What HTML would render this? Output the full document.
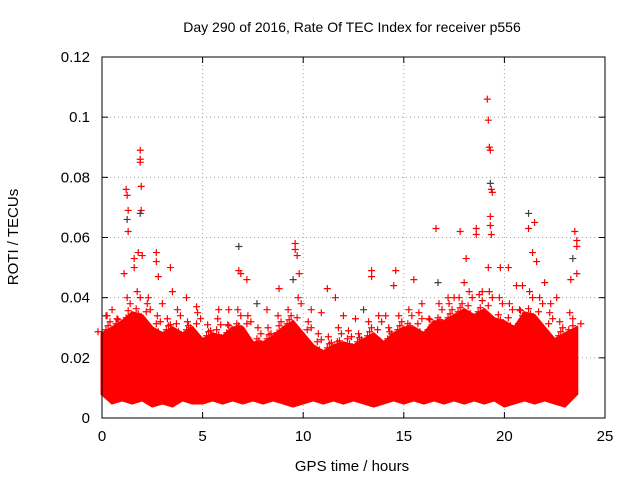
<!DOCTYPE html>
<html><head><meta charset="utf-8"><style>
html,body{margin:0;padding:0;background:#fff;}
svg{display:block;font-family:"Liberation Sans",sans-serif;}
</style></head><body>
<svg id="chart" width="640" height="480" viewBox="0 0 640 480">
<text x="352" y="32" font-size="14" text-anchor="middle">Day 290 of 2016, Rate Of TEC Index for receiver p556</text>
<text x="352" y="471" font-size="15" text-anchor="middle">GPS time / hours</text>
<text transform="translate(18,237) rotate(-90)" font-size="15" text-anchor="middle">ROTI / TECUs</text>
<g id="grid"></g>
<g id="ticks"></g>
<g id="marks"></g>
<rect x="102" y="57" width="503" height="361" fill="none" stroke="#000" stroke-width="1"/>
</svg>
<script>
const xTicks=[0,5,10,15,20,25];
const xTickLabels=["0","5","10","15","20","25"];
const yTicks=[0,0.02,0.04,0.06,0.08,0.1,0.12];
const yTickLabels=["0","0.02","0.04","0.06","0.08","0.1","0.12"];
const bandTimes=[0,0.5,1,1.5,2,2.5,3,3.5,4,4.5,5,5.5,6,6.5,7,7.5,8,8.5,9,9.5,10,10.5,11,11.5,12,12.5,13,13.5,14,14.5,15,15.5,16,16.5,17,17.5,18,18.5,19,19.5,20,20.5,21,21.5,22,22.5,23,23.6];
const bandHi=[0.028,0.03,0.032,0.035,0.034,0.03,0.028,0.03,0.028,0.03,0.026,0.028,0.027,0.03,0.03,0.025,0.025,0.027,0.03,0.032,0.028,0.024,0.022,0.024,0.025,0.024,0.026,0.028,0.025,0.028,0.03,0.03,0.028,0.032,0.032,0.034,0.036,0.034,0.036,0.033,0.032,0.03,0.035,0.034,0.03,0.026,0.028,0.03];
const bandLo=[0.008,0.005,0.006,0.005,0.006,0.004,0.005,0.004,0.006,0.005,0.005,0.006,0.005,0.006,0.005,0.006,0.005,0.006,0.005,0.004,0.005,0.006,0.005,0.006,0.005,0.006,0.005,0.004,0.005,0.006,0.005,0.006,0.005,0.006,0.005,0.006,0.005,0.006,0.005,0.006,0.004,0.005,0.006,0.005,0.006,0.005,0.004,0.008];
const fuzzTimes=[0.25,0.75,1.25,1.75,2.25,2.75,3.25,3.75,4.25,4.75,5.25,5.75,6.25,6.75,7.25,7.75,8.25,8.75,9.25,9.75,10.25,10.75,11.25,11.75,12.25,12.75,13.25,13.75,14.25,14.75,15.25,15.75,16.25,16.75,17.25,17.75,18.25,18.75,19.25,19.75,20.25,20.75,21.25,21.75,22.25,22.75,23.25];
const fuzzValues=[0.034,0.033,0.04,0.042,0.038,0.034,0.033,0.036,0.032,0.035,0.031,0.033,0.031,0.036,0.034,0.03,0.03,0.034,0.036,0.04,0.032,0.028,0.027,0.03,0.029,0.028,0.032,0.034,0.03,0.034,0.036,0.035,0.033,0.038,0.038,0.04,0.042,0.041,0.042,0.04,0.038,0.036,0.042,0.04,0.035,0.032,0.035];
const outTimes=[1.2,1.25,1.3,1.3,1.25,1.6,1.6,1.8,1.9,1.9,1.9,1.95,1.95,1.9,2.0,1.1,2.7,2.7,2.8,3.4,3.5,4.2,6.8,6.8,6.9,7.2,8.8,9.6,9.6,9.7,9.8,9.5,11.2,11.6,13.4,13.4,14.6,14.5,15.5,16.6,16.7,17.8,18.1,18.6,18.6,19.15,19.2,19.25,19.3,19.3,19.35,19.4,19.3,19.3,19.35,19.2,19.8,20.2,21.2,21.2,21.5,21.4,21.6,22.0,23.5,23.6,23.6,23.4,23.6,23.3,0.2,3.0,5.8,8.2,10.4,12.0,13.0,17.2,18.0,20.6,22.6,0.5,2.3,4.7,6.3,7.7,10.9,12.6,14.1,15.9,17.5,18.9,20.9,22.3];
const outValues=[0.076,0.074,0.069,0.062,0.066,0.053,0.05,0.055,0.089,0.086,0.085,0.077,0.069,0.068,0.054,0.048,0.055,0.052,0.047,0.05,0.042,0.04,0.057,0.049,0.048,0.046,0.043,0.058,0.056,0.054,0.048,0.046,0.043,0.04,0.049,0.047,0.049,0.044,0.046,0.063,0.045,0.062,0.053,0.063,0.061,0.106,0.099,0.09,0.089,0.078,0.076,0.075,0.067,0.064,0.061,0.05,0.05,0.05,0.068,0.063,0.065,0.055,0.052,0.045,0.062,0.059,0.057,0.053,0.048,0.046,0.034,0.038,0.036,0.036,0.036,0.034,0.036,0.04,0.045,0.044,0.04,0.036,0.04,0.037,0.036,0.038,0.035,0.033,0.034,0.038,0.04,0.042,0.044,0.038];
const NS='http://www.w3.org/2000/svg';
function xs(t){return 102+t*(503/25);}
function ys(v){return 418-v*(361/0.12);}
const grid=document.getElementById('grid'),ticks=document.getElementById('ticks'),marks=document.getElementById('marks');
function mk(tag,attrs,parent){const e=document.createElementNS(NS,tag);for(const k in attrs)e.setAttribute(k,attrs[k]);parent.appendChild(e);return e;}
xTicks.forEach((t,i)=>{
  const x=xs(t);
  if(i>0&&i<xTicks.length-1){const g=mk('line',{x1:x,x2:x,y1:57,y2:418,stroke:'#a0a0a0','stroke-dasharray':'1,3'},grid);
  
  }
  const l=mk('line',{x1:x,x2:x,y1:418,y2:412,stroke:'#000'},ticks);
  
  
  const l2=mk('line',{x1:x,x2:x,y1:57,y2:63,stroke:'#000'},ticks);
  
  
  const tx=mk('text',{x:x,y:441,'font-size':15,'text-anchor':'middle'},ticks);tx.textContent=xTickLabels[i];
  
  
});
yTicks.forEach((v,i)=>{
  const y=ys(v);
  if(i>0&&i<yTicks.length-1){const g=mk('line',{x1:102,x2:605,y1:y,y2:y,stroke:'#a0a0a0','stroke-dasharray':'1,3'},grid);
  
  }
  const l=mk('line',{x1:102,x2:108,y1:y,y2:y,stroke:'#000'},ticks);
  
  
  const l2=mk('line',{x1:605,x2:599,y1:y,y2:y,stroke:'#000'},ticks);
  
  
  const tx=mk('text',{x:90,y:y+5,'font-size':15,'text-anchor':'end'},ticks);tx.textContent=yTickLabels[i];
  
  
});
let d='';
bandTimes.forEach((t,i)=>{d+=(i?'L':'M')+xs(t).toFixed(1)+','+ys(bandHi[i]).toFixed(1);});
for(let i=bandTimes.length-1;i>=0;i--)d+='L'+xs(bandTimes[i]).toFixed(1)+','+ys(bandLo[i]).toFixed(1);
d+='Z';
const band=mk('path',{d:d,fill:'#ff0000',stroke:'#ff0000','stroke-width':3},marks);


function plus(x,y,c,name){
  const p=mk('path',{d:`M${x-3.5},${y}h7M${x},${y-3.5}v7`,stroke:c,'stroke-width':1.2,fill:'none'},marks);
  
  
}
bandTimes.forEach((t,i)=>{plus(xs(t)+4,ys(bandHi[i])-4,'#ff0000','band-top-point');plus(xs(t)-4,ys(bandHi[i])-2,'#ff0000','band-top-point');});
fuzzTimes.forEach((t,i)=>{plus(xs(t),ys(fuzzValues[i]),'#ff0000','fuzz-point');plus(xs(t)+3,ys(fuzzValues[i])+6,'#ff0000','fuzz-point');});
outTimes.forEach((t,i)=>{plus(xs(t),ys(outValues[i]),(i%9===4)?'#404040':'#ff0000','outlier-point');});
</script>
</body></html>
